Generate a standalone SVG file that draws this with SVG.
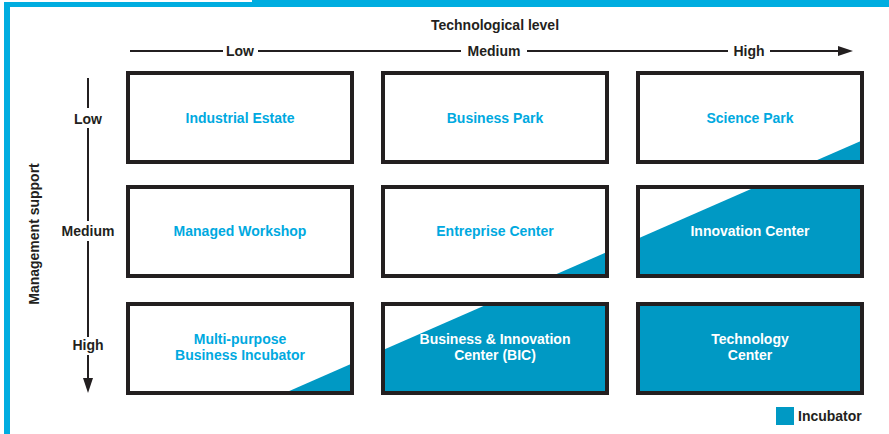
<svg xmlns="http://www.w3.org/2000/svg" width="889" height="434" viewBox="0 0 889 434">
<style>
text{font-family:"Liberation Sans",Arial,sans-serif;font-weight:bold;font-size:14px}
.ax{fill:#231f20;text-anchor:middle}
.lbl{fill:#00a9e0;text-anchor:middle}
.wlbl{fill:#ffffff;text-anchor:middle}
.box{fill:none;stroke:#231f20;stroke-width:4}
.bg{fill:#ffffff}
.inc{fill:#0099c4}
.axl{stroke:#231f20;stroke-width:2;fill:none}
.frame{fill:#00ade0}
</style>
<rect width="889" height="434" fill="#ffffff"/>
<g id="frame">
<rect class="frame" x="4" y="2" width="885" height="5"/>
<rect class="frame" x="252" y="0" width="637" height="7"/>
<rect class="frame" x="4" y="2" width="6" height="432"/>
</g>
<g id="axes">
<text class="ax" x="495" y="30">Technological level</text>
<path class="axl" d="M130,51 H223 M258,51 H461 M527,51 H728 M770,51 H838"/>
<path d="M838,46 L853,51 L838,56 Z" fill="#231f20"/>
<text class="ax" x="240" y="56">Low</text>
<text class="ax" x="494" y="56">Medium</text>
<text class="ax" x="749" y="56">High</text>
<text class="ax" transform="translate(39,234) rotate(-90)" x="0" y="0">Management support</text>
<path class="axl" d="M88,78 V108 M88,128 V221 M88,241 V337 M88,355 V378"/>
<path d="M83,378 L88,393 L93,378 Z" fill="#231f20"/>
<text class="ax" x="88" y="124">Low</text>
<text class="ax" x="88" y="236">Medium</text>
<text class="ax" x="88" y="350">High</text>
</g>
<g id="industrial-estate">
<rect class="bg" x="128" y="73" width="224" height="89"/>
<rect class="box" x="128" y="73" width="224" height="89"/>
<text class="lbl" x="240" y="123">Industrial Estate</text>
</g>
<g id="business-park">
<rect class="bg" x="383" y="73" width="224" height="89"/>
<rect class="box" x="383" y="73" width="224" height="89"/>
<text class="lbl" x="495" y="123">Business Park</text>
</g>
<g id="science-park">
<rect class="bg" x="638" y="73" width="224" height="89"/>
<polygon class="inc" points="812.7,162 862,162 862,140.4"/>
<rect class="box" x="638" y="73" width="224" height="89"/>
<text class="lbl" x="750" y="123">Science Park</text>
</g>
<g id="managed-workshop">
<rect class="bg" x="128" y="187" width="224" height="89"/>
<rect class="box" x="128" y="187" width="224" height="89"/>
<text class="lbl" x="240" y="236">Managed Workshop</text>
</g>
<g id="entreprise-center">
<rect class="bg" x="383" y="187" width="224" height="89"/>
<polygon class="inc" points="552.1,276 607,252 607,276"/>
<rect class="box" x="383" y="187" width="224" height="89"/>
<text class="lbl" x="495" y="236">Entreprise Center</text>
</g>
<g id="innovation-center">
<rect class="bg" x="638" y="187" width="224" height="89"/>
<polygon class="inc" points="638,238.4 755.6,187 862,187 862,276 638,276"/>
<rect class="box" x="638" y="187" width="224" height="89"/>
<text class="wlbl" x="750" y="236">Innovation Center</text>
</g>
<g id="multi-purpose-business-incubator">
<rect class="bg" x="128" y="304" width="224" height="89"/>
<polygon class="inc" points="284.7,393 352,393 352,363.6"/>
<rect class="box" x="128" y="304" width="224" height="89"/>
<text class="lbl" x="240" y="344">Multi-purpose</text>
<text class="lbl" x="240" y="360">Business Incubator</text>
</g>
<g id="business-innovation-center">
<rect class="bg" x="383" y="304" width="224" height="89"/>
<polygon class="inc" points="383,350 488.1,304 607,304 607,393 383,393"/>
<rect class="box" x="383" y="304" width="224" height="89"/>
<text class="wlbl" x="495" y="344">Business &amp; Innovation</text>
<text class="wlbl" x="495" y="360">Center (BIC)</text>
</g>
<g id="technology-center">
<rect class="inc" x="638" y="304" width="224" height="89"/>
<rect class="box" x="638" y="304" width="224" height="89"/>
<text class="wlbl" x="750" y="344">Technology</text>
<text class="wlbl" x="750" y="360">Center</text>
</g>
<g id="legend">
<rect class="inc" x="776" y="407" width="18" height="18"/>
<text x="798" y="421" fill="#231f20">Incubator</text>
</g>
</svg>
